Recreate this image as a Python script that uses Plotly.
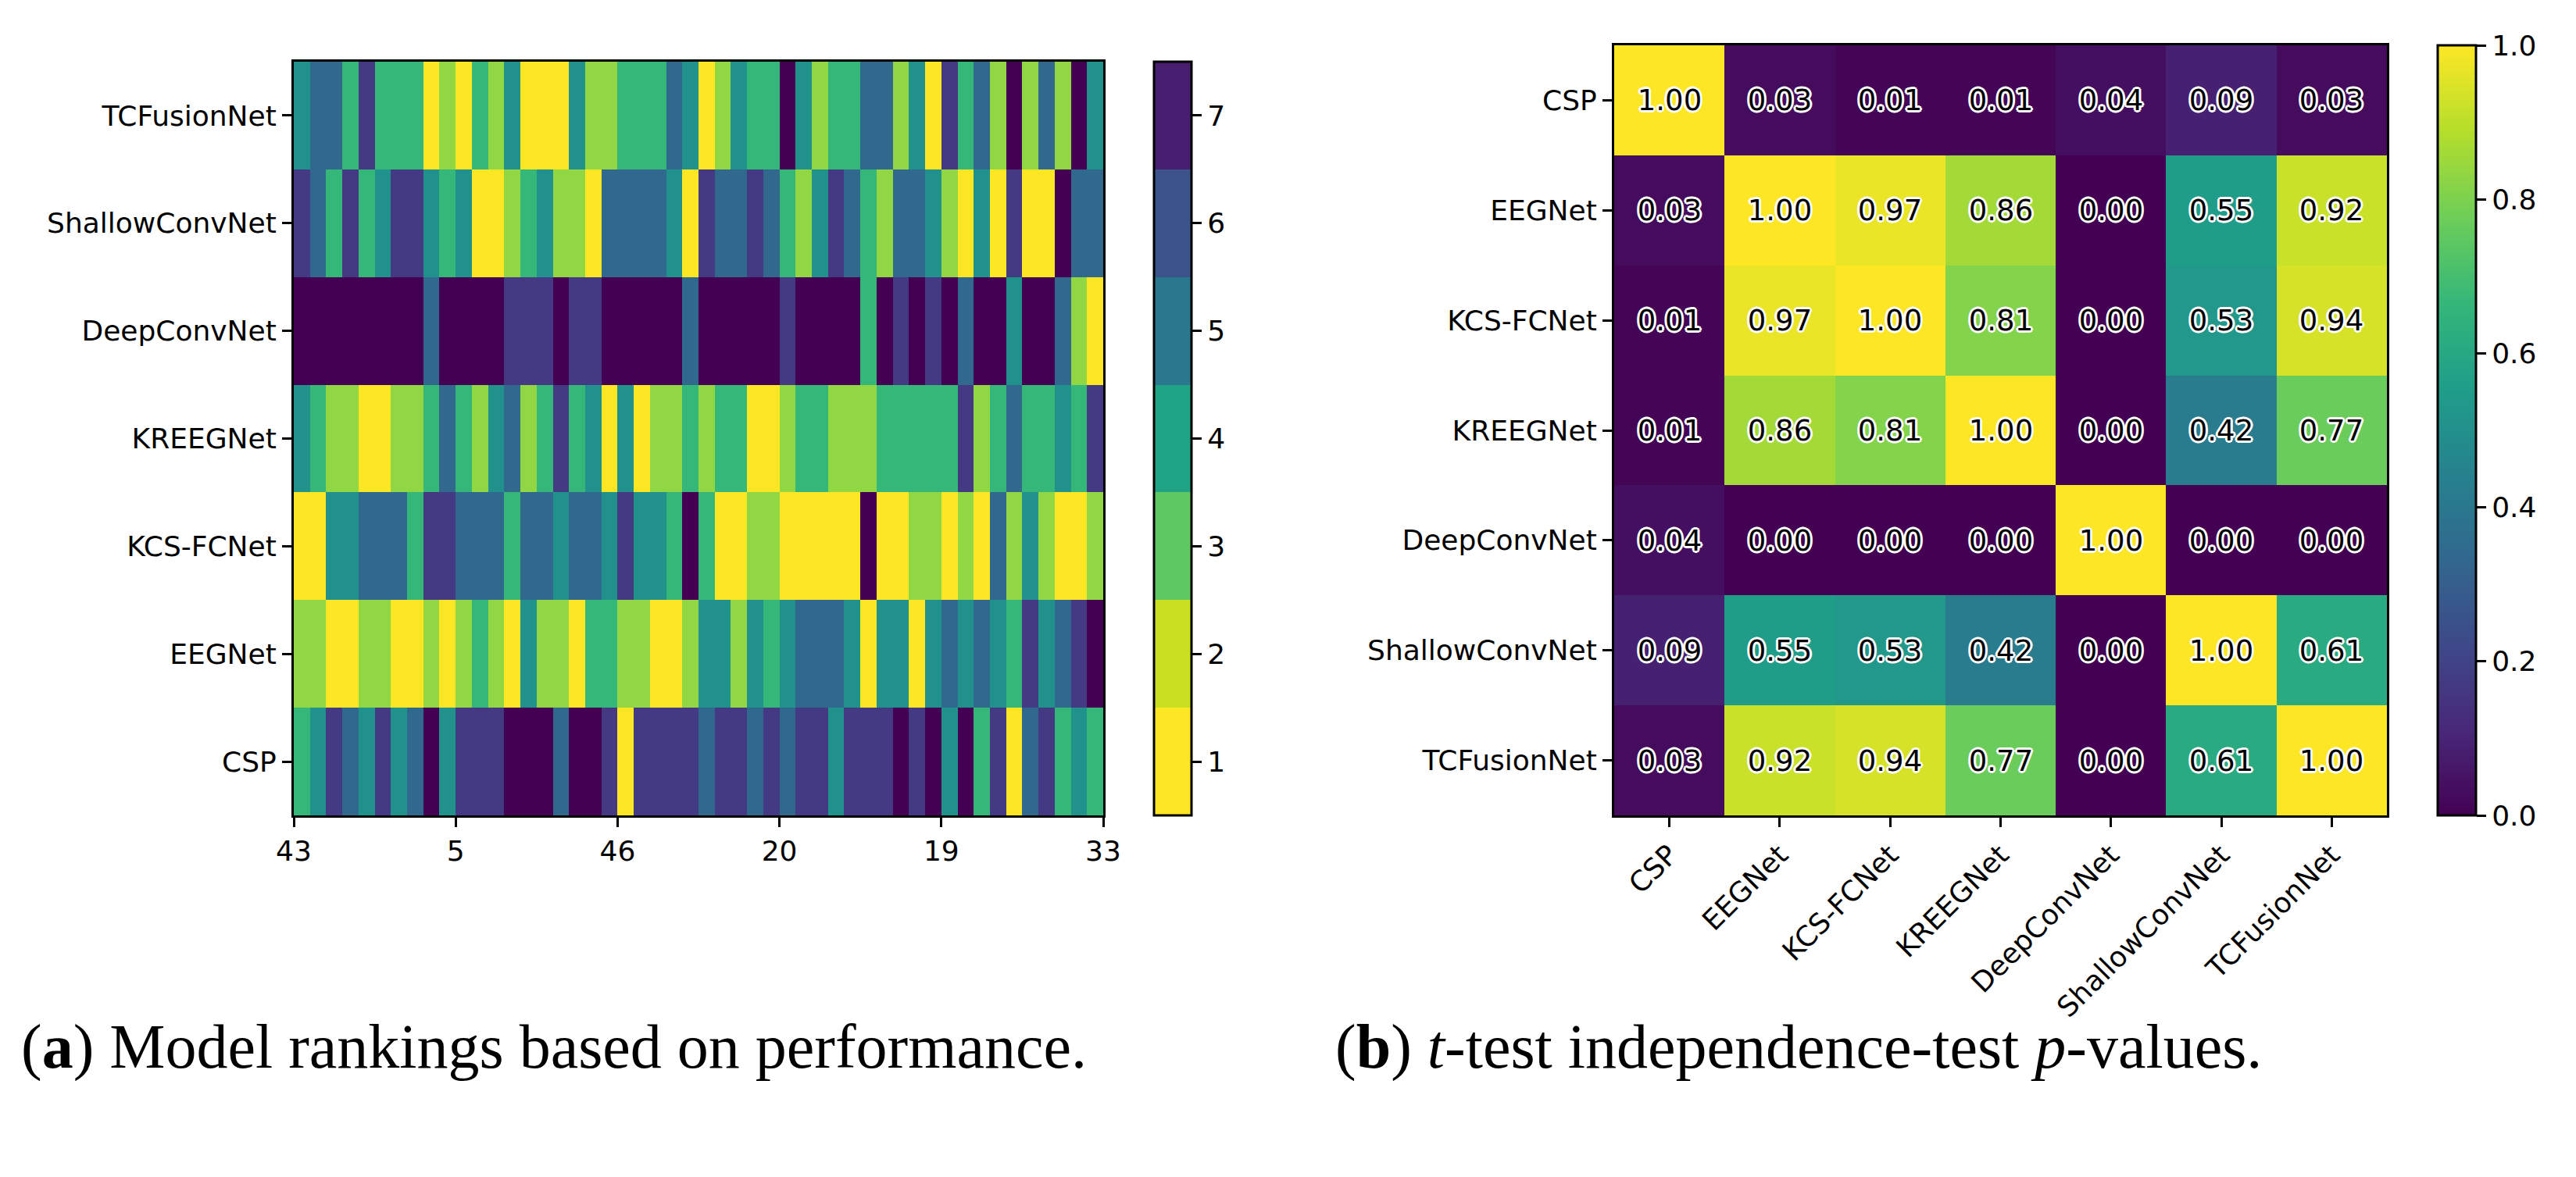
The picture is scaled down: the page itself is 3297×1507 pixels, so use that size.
import numpy as np
import plotly.graph_objects as go

W, H = 3297, 1507

# ranking heatmap (rows bottom -> top)
models_rank = ['CSP', 'EEGNet', 'KCS-FCNet', 'KREEGNet', 'DeepConvNet', 'ShallowConvNet', 'TCFusionNet']
subject_ticks = ['43', '5', '46', '20', '19', '33']

rank_csp = [3, 4, 6, 5, 4, 6, 4, 5, 7, 4, 6, 6, 6, 7,
            7, 7, 5, 7, 7, 6, 1, 6, 6, 6, 6, 5, 6,
            6, 5, 6, 5, 6, 6, 4, 6, 6, 6, 7, 6, 7,
            4, 7, 3, 6, 1, 5, 6, 3, 4, 3]
rank_eegnet = [2, 2, 1, 1, 2, 2, 1, 1, 2, 1, 2, 3, 2, 1,
               4, 2, 2, 1, 3, 3, 2, 2, 1, 1, 2, 4, 4,
               2, 4, 3, 4, 5, 5, 5, 4, 1, 4, 4, 1, 4,
               5, 4, 5, 4, 3, 6, 4, 5, 6, 7]
rank_kcs = [1, 1, 4, 4, 5, 5, 5, 3, 6, 6, 5, 5, 5, 3,
            5, 5, 4, 5, 5, 4, 6, 4, 4, 3, 7, 3, 1,
            1, 2, 2, 1, 1, 1, 1, 1, 7, 1, 1, 2, 2,
            1, 2, 1, 5, 2, 4, 2, 1, 1, 2]
rank_kreeg = [4, 3, 2, 2, 1, 1, 2, 2, 3, 5, 3, 2, 4, 5,
              2, 3, 6, 3, 4, 1, 4, 1, 2, 2, 3, 2, 3,
              3, 1, 1, 2, 3, 3, 2, 2, 2, 3, 3, 3, 3,
              3, 6, 2, 3, 5, 3, 3, 4, 3, 6]
rank_deep = [7, 7, 7, 7, 7, 7, 7, 7, 5, 7, 7, 7, 7, 6,
             6, 6, 7, 6, 6, 7, 7, 7, 7, 7, 5, 7, 7,
             7, 7, 7, 6, 7, 7, 7, 7, 3, 7, 6, 7, 6,
             7, 5, 7, 7, 4, 7, 7, 5, 2, 1]
rank_shallow = [6, 5, 3, 6, 3, 4, 6, 6, 4, 3, 4, 1, 1, 2,
                3, 4, 2, 2, 1, 5, 5, 5, 5, 4, 1, 6, 5,
                5, 6, 5, 3, 2, 4, 6, 5, 3, 2, 5, 5, 4,
                2, 1, 4, 1, 6, 1, 1, 7, 5, 5]
rank_tcfusion = [4, 5, 5, 3, 6, 3, 3, 3, 1, 2, 1, 3, 2, 4,
                 1, 1, 1, 4, 2, 2, 3, 3, 3, 5, 4, 1, 2,
                 4, 3, 3, 7, 4, 2, 3, 3, 5, 5, 2, 4, 1,
                 6, 3, 5, 2, 7, 2, 5, 2, 7, 4]

# p-value matrix (rows top -> bottom)
models_p = ['CSP', 'EEGNet', 'KCS-FCNet', 'KREEGNet', 'DeepConvNet', 'ShallowConvNet', 'TCFusionNet']
p_csp = [1.00, 0.03, 0.01, 0.01, 0.04, 0.09, 0.03]
p_eegnet = [0.03, 1.00, 0.97, 0.86, 0.00, 0.55, 0.92]
p_kcs = [0.01, 0.97, 1.00, 0.81, 0.00, 0.53, 0.94]
p_kreeg = [0.01, 0.86, 0.81, 1.00, 0.00, 0.42, 0.77]
p_deep = [0.04, 0.00, 0.00, 0.00, 1.00, 0.00, 0.00]
p_shallow = [0.09, 0.55, 0.53, 0.42, 0.00, 1.00, 0.61]
p_tcfusion = [0.03, 0.92, 0.94, 0.77, 0.00, 0.61, 1.00]

cell_colors = ['#fde725', '#90d743', '#35b779', '#21918c', '#31688e', '#443983', '#440154']
bar_colors = ['#fde725', '#c8e020', '#5ec962', '#20a486', '#2a788e', '#3b528b', '#481e70']


def stepped(colors):
    n = len(colors)
    scale = []
    for i, c in enumerate(colors):
        scale.append([i / n, c])
        scale.append([(i + 1) / n, c])
    return scale


z_rank = [rank_csp, rank_eegnet, rank_kcs, rank_kreeg, rank_deep, rank_shallow, rank_tcfusion]
n_sub = len(rank_csp)
z_p = [p_csp, p_eegnet, p_kcs, p_kreeg, p_deep, p_shallow, p_tcfusion]

font_tick = dict(family='DejaVu Sans', size=36, color='black')
white_edge = ('3px 0 0 #fff, -3px 0 0 #fff, 0 3px 0 #fff, 0 -3px 0 #fff, '
              '2px 2px 0 #fff, -2px -2px 0 #fff, 2px -2px 0 #fff, -2px 2px 0 #fff')

fig = go.Figure()
fig.add_trace(go.Heatmap(z=z_rank, x0=0.5, dx=1, y=models_rank,
                         colorscale=stepped(cell_colors), zmin=0.5, zmax=7.5,
                         showscale=False, hoverinfo='skip', xaxis='x', yaxis='y'))
# transparent copy that only carries the colorbar
fig.add_trace(go.Heatmap(z=z_rank, x0=0.5, dx=1, y=models_rank, opacity=0,
                         colorscale=stepped(bar_colors), zmin=0.5, zmax=7.5,
                         hoverinfo='skip', xaxis='x', yaxis='y',
                         colorbar=dict(x=1469 / W, xanchor='left', y=1 - 553.5 / H, yanchor='middle',
                                       len=965 / H, thickness=48, xpad=0, ypad=0,
                                       outlinewidth=3, outlinecolor='black',
                                       tickvals=[1, 2, 3, 4, 5, 6, 7], ticks='outside',
                                       ticklen=12, tickwidth=3, tickcolor='black',
                                       tickfont=font_tick)))
fig.add_trace(go.Heatmap(z=z_p, x=models_p, y=models_p, colorscale='Viridis', zmin=0, zmax=1,
                         texttemplate='%{z:.2f}', hoverinfo='skip', xaxis='x2', yaxis='y2',
                         textfont=dict(family='DejaVu Sans', size=37, color='black', shadow=white_edge),
                         colorbar=dict(x=3112 / W, xanchor='left', y=1 - 543 / H, yanchor='middle',
                                       len=986 / H, thickness=49, xpad=0, ypad=0,
                                       outlinewidth=3, outlinecolor='black',
                                       tickvals=[0, 0.2, 0.4, 0.6, 0.8, 1.0], tickformat='.1f',
                                       ticks='outside', ticklen=12, tickwidth=3, tickcolor='black',
                                       tickfont=font_tick)))

axis_common = dict(showline=True, linewidth=3, linecolor='black', mirror=True,
                   ticks='outside', ticklen=12, tickwidth=3, tickcolor='black',
                   tickfont=font_tick, showgrid=False, zeroline=False, automargin=False)

fig.update_layout(
    width=W, height=H,
    margin=dict(l=0, r=0, t=0, b=0, autoexpand=False),
    paper_bgcolor='white', plot_bgcolor='white',
    xaxis=dict(domain=[368 / W, 1404 / W], range=[0, n_sub],
               tickvals=list(range(0, n_sub + 1, 10)), ticktext=subject_ticks, **axis_common),
    yaxis=dict(domain=[1 - 1036 / H, 1 - 71 / H], **axis_common),
    xaxis2=dict(domain=[2058 / W, 3047 / W], anchor='y2', tickangle=-45, **axis_common),
    yaxis2=dict(domain=[1 - 1036 / H, 1 - 50 / H], anchor='x2', autorange='reversed', **axis_common),
)

caption_font = dict(family='Liberation Serif', size=80, color='black')
fig.add_annotation(x=17 / W, y=1 - 1332 / H, xref='paper', yref='paper', xanchor='left', yanchor='middle',
                   text='(<b>a</b>) Model rankings based on performance.', showarrow=False, font=caption_font)
fig.add_annotation(x=1699 / W, y=1 - 1332 / H, xref='paper', yref='paper', xanchor='left', yanchor='middle',
                   text='(<b>b</b>) <i>t</i>-test independence-test <i>p</i>-values.', showarrow=False,
                   font=caption_font)

fig.write_html('out.html')
